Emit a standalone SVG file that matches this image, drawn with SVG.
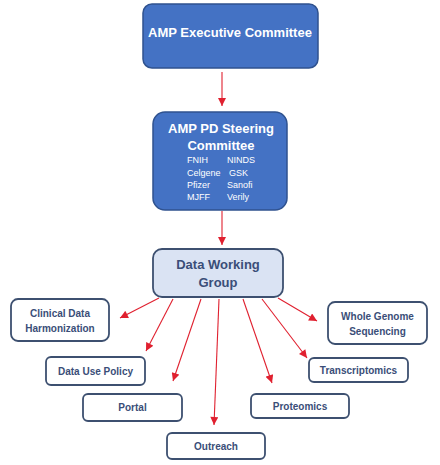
<svg xmlns="http://www.w3.org/2000/svg" width="440" height="465" viewBox="0 0 440 465">
<defs>
<style>
.dark{fill:#4472C4;stroke:#2F528F;stroke-width:1.5}
.light{fill:#DAE3F3;stroke:#3D5070;stroke-width:1.8}
.leaf{fill:#FFFFFF;stroke:#3D5070;stroke-width:1.8}
.tw{font-family:"Liberation Sans",Arial,sans-serif;font-weight:bold;fill:#FFFFFF;text-anchor:middle}
.tb{font-family:"Liberation Sans",Arial,sans-serif;font-weight:bold;fill:#3A4E78;text-anchor:middle}
.ts{font-family:"Liberation Sans",Arial,sans-serif;fill:#FFFFFF;font-size:9px}
.conn{stroke:#E0202F;stroke-width:1.1;fill:none;marker-end:url(#ah)}
</style>
<marker id="ah" viewBox="0 0 10 10" refX="10" refY="5" markerWidth="9" markerHeight="8" markerUnits="userSpaceOnUse" orient="auto">
<path d="M0,0 L10,5 L0,10 Z" fill="#E0202F"/>
</marker>
</defs>
<rect width="440" height="465" fill="#FFFFFF"/>
<g id="connectors">
<line class="conn" x1="222" y1="72" x2="222" y2="106"/>
<line class="conn" x1="222" y1="211" x2="222" y2="245"/>
<line class="conn" x1="159" y1="298" x2="120" y2="318"/>
<line class="conn" x1="173" y1="299" x2="146" y2="351"/>
<line class="conn" x1="201" y1="299" x2="173" y2="381"/>
<line class="conn" x1="219" y1="299" x2="214" y2="425"/>
<line class="conn" x1="243" y1="299" x2="272" y2="383"/>
<line class="conn" x1="262" y1="299" x2="307" y2="358"/>
<line class="conn" x1="278" y1="298" x2="317" y2="321"/>
</g>
<g id="exec">
<rect class="dark" x="143" y="4" width="175" height="64" rx="9"/>
<text class="tw" x="230" y="37" font-size="13">AMP Executive Committee</text>
</g>
<g id="steering">
<rect class="dark" x="153" y="112" width="134" height="98" rx="12"/>
<text class="tw" x="221" y="133" font-size="13">AMP PD Steering</text>
<text class="tw" x="221" y="150" font-size="13">Committee</text>
<text class="ts" x="187" y="163">FNIH</text>
<text class="ts" x="227" y="163">NINDS</text>
<text class="ts" x="187" y="176">Celgene</text>
<text class="ts" x="229" y="176">GSK</text>
<text class="ts" x="187" y="188">Pfizer</text>
<text class="ts" x="227" y="188">Sanofi</text>
<text class="ts" x="187" y="200">MJFF</text>
<text class="ts" x="227" y="200">Verily</text>
</g>
<g id="dwg">
<rect class="light" x="153" y="249" width="130" height="48" rx="9"/>
<text class="tb" x="218" y="269" font-size="13">Data Working</text>
<text class="tb" x="218" y="287" font-size="13">Group</text>
</g>
<g id="clinical">
<rect class="leaf" x="11" y="299" width="98" height="42" rx="7"/>
<text class="tb" x="60" y="317" font-size="10">Clinical Data</text>
<text class="tb" x="60" y="332" font-size="10">Harmonization</text>
</g>
<g id="datause">
<rect class="leaf" x="46" y="357" width="99" height="28" rx="5"/>
<text class="tb" x="95.5" y="375" font-size="10">Data Use Policy</text>
</g>
<g id="portal">
<rect class="leaf" x="83" y="394" width="99" height="27" rx="5"/>
<text class="tb" x="132.5" y="411" font-size="10">Portal</text>
</g>
<g id="outreach">
<rect class="leaf" x="167" y="433" width="98" height="26" rx="5"/>
<text class="tb" x="216" y="450" font-size="10">Outreach</text>
</g>
<g id="wgs">
<rect class="leaf" x="328" y="302" width="99" height="42" rx="7"/>
<text class="tb" x="377.5" y="320" font-size="10">Whole Genome</text>
<text class="tb" x="377.5" y="335" font-size="10">Sequencing</text>
</g>
<g id="transcriptomics">
<rect class="leaf" x="309" y="358" width="99" height="24" rx="5"/>
<text class="tb" x="358.5" y="374" font-size="10">Transcriptomics</text>
</g>
<g id="proteomics">
<rect class="leaf" x="251" y="394" width="98" height="24" rx="5"/>
<text class="tb" x="300" y="410" font-size="10">Proteomics</text>
</g>
</svg>
